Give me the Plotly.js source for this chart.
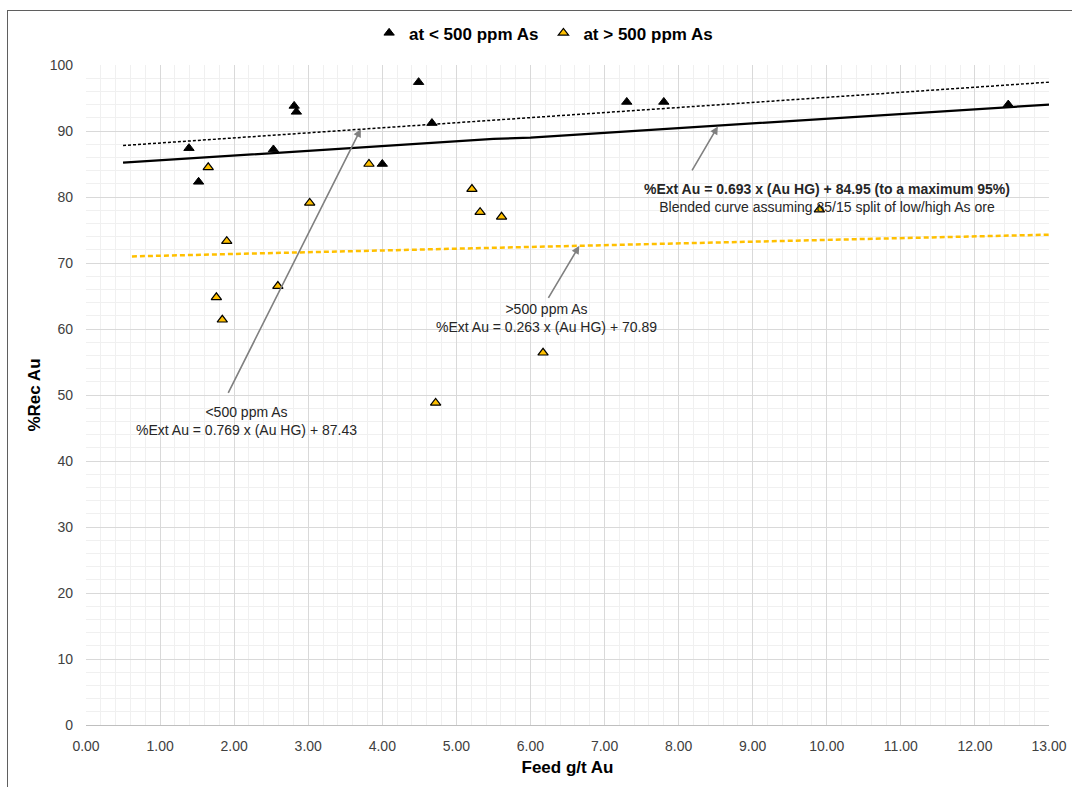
<!DOCTYPE html>
<html>
<head>
<meta charset="utf-8">
<script src="https://cdn.plot.ly/plotly-3.0.1.min.js"></script>
<style>
  html, body { margin: 0; padding: 0; background: #fff; overflow: hidden; }
  #chart { width: 1072px; height: 787px; }
  #frame { position: absolute; left: 7px; top: 10px; width: 1100px; height: 800px;
           border: 1.5px solid #5f5f5f; pointer-events: none; box-sizing: border-box; }
</style>
</head>
<body>
<div id="chart"></div>
<div id="frame"></div>
<script>
// ---- data ----
const lowAsName = 'at < 500 ppm As';
const lowAsX = [1.39, 1.52, 2.53, 2.81, 2.84, 4.00, 4.49, 4.67, 7.30, 7.80, 12.45];
const lowAsY = [87.4, 82.3, 87.2, 93.8, 92.9, 85.0, 97.4, 91.2, 94.4, 94.4, 94.0];

const highAsName = 'at > 500 ppm As';
const highAsX = [1.65, 1.90, 1.76, 1.84, 2.59, 3.02, 3.82, 4.72, 5.21, 5.32, 5.61, 6.17, 9.90];
const highAsY = [84.5, 73.3, 64.8, 61.4, 66.5, 79.1, 85.0, 48.8, 81.2, 77.7, 77.0, 56.4, 78.1];

const lowTrendX = [0.5, 13.0];
const lowTrendY = [87.8, 97.4];
const highTrendX = [0.62, 13.0];
const highTrendY = [71.0, 74.3];
const blendedX = [0.5, 5.5, 6.0, 13.0];
const blendedY = [85.2, 88.8, 89.0, 94.0];

const xTitle = 'Feed g/t Au';
const yTitle = '%Rec Au';

const noteLow = '<500 ppm As<br>%Ext Au = 0.769 x (Au HG) + 87.43';
const noteHigh = '>500 ppm As<br>%Ext Au = 0.263 x (Au HG) + 70.89';
const noteBlend = '<b>%Ext Au = 0.693 x (Au HG) + 84.95 (to a maximum 95%)</b><br>Blended curve assuming 85/15 split of low/high As ore';

// annotation anchor / arrow positions (in data units)
const noteLowPos = {x: 2.17, y: 46.1, tailX: 1.91, tailY: 50.1, headX: 3.71, headY: 90.3};
const noteHighPos = {x: 6.22, y: 61.7, tailX: 6.23, tailY: 64.5, headX: 6.66, headY: 72.6};
const noteBlendPos = {x: 10.0, y: 79.9, tailX: 8.17, tailY: 83.8, headX: 8.53, headY: 90.7};

const FONT = 'Liberation Sans, Arial, sans-serif';

const traces = [
  {x: highTrendX, y: highTrendY, type: 'scatter', mode: 'lines', showlegend: false,
   line: {color: '#FFC000', width: 2.5, dash: '5px,3px'}, hoverinfo: 'skip'},
  {x: lowTrendX, y: lowTrendY, type: 'scatter', mode: 'lines', showlegend: false,
   line: {color: '#000000', width: 1.5, dash: '3px,2px'}, hoverinfo: 'skip'},
  {x: blendedX, y: blendedY, type: 'scatter', mode: 'lines', showlegend: false,
   line: {color: '#000000', width: 2.25}, hoverinfo: 'skip'},
  {x: lowAsX, y: lowAsY, type: 'scatter', mode: 'markers', name: lowAsName,
   marker: {symbol: 'triangle-up', size: 9, color: '#000000', line: {color: '#000000', width: 1}}},
  {x: highAsX, y: highAsY, type: 'scatter', mode: 'markers', name: highAsName,
   marker: {symbol: 'triangle-up', size: 9, color: '#FFC000', line: {color: '#000000', width: 1.2}}}
];

function arrow(p) {
  return {x: p.headX, y: p.headY, ax: p.tailX, ay: p.tailY, axref: 'x', ayref: 'y',
          xref: 'x', yref: 'y', text: '', showarrow: true, arrowhead: 2, arrowsize: 1,
          arrowwidth: 1.6, arrowcolor: '#808080', standoff: 0, startstandoff: 0};
}
function label(p, txt) {
  return {x: p.x, y: p.y, xref: 'x', yref: 'y', text: txt, showarrow: false,
          xanchor: 'center', yanchor: 'middle', align: 'center',
          font: {family: FONT, size: 14, color: '#262626'}};
}

const layout = {
  width: 1072, height: 787,
  margin: {l: 86, r: 23, t: 65, b: 62},
  paper_bgcolor: '#ffffff', plot_bgcolor: '#ffffff',
  font: {family: FONT, color: '#404040'},
  showlegend: true,
  legend: {orientation: 'h', x: 0.294, xanchor: 'left', y: 1.048, yanchor: 'middle',
           font: {family: FONT, size: 17, color: '#000000', weight: 'bold'},
           itemwidth: 30, tracegroupgap: 0, bgcolor: 'rgba(0,0,0,0)'},
  xaxis: {
    range: [0, 13], dtick: 1, tick0: 0, tickformat: '.2f',
    showgrid: true, gridcolor: '#d9d9d9', gridwidth: 1,
    minor: {dtick: 0.2, showgrid: true, gridcolor: '#f0f0f0', gridwidth: 1},
    zeroline: false, showline: true, linecolor: '#bfbfbf', linewidth: 1,
    ticks: '', ticklabelstandoff: 8,
    tickfont: {family: FONT, size: 14, color: '#404040'},
    title: {text: '<b>' + xTitle + '</b>', font: {family: FONT, size: 17, color: '#000000'}, standoff: 8}
  },
  yaxis: {
    range: [0, 100], dtick: 10, tick0: 0,
    showgrid: true, gridcolor: '#d9d9d9', gridwidth: 1,
    minor: {dtick: 2, showgrid: true, gridcolor: '#f0f0f0', gridwidth: 1},
    zeroline: false, showline: false,
    ticks: '', ticklabelstandoff: 12,
    tickfont: {family: FONT, size: 14, color: '#404040'},
    title: {text: '<b>' + yTitle + '</b>', font: {family: FONT, size: 17, color: '#000000'}, standoff: 4}
  },
  annotations: [
    arrow(noteLowPos), arrow(noteHighPos), arrow(noteBlendPos),
    label(noteLowPos, noteLow), label(noteHighPos, noteHigh), label(noteBlendPos, noteBlend)
  ]
};

Plotly.newPlot('chart', traces, layout, {displayModeBar: false, staticPlot: true});
</script>
</body>
</html>
